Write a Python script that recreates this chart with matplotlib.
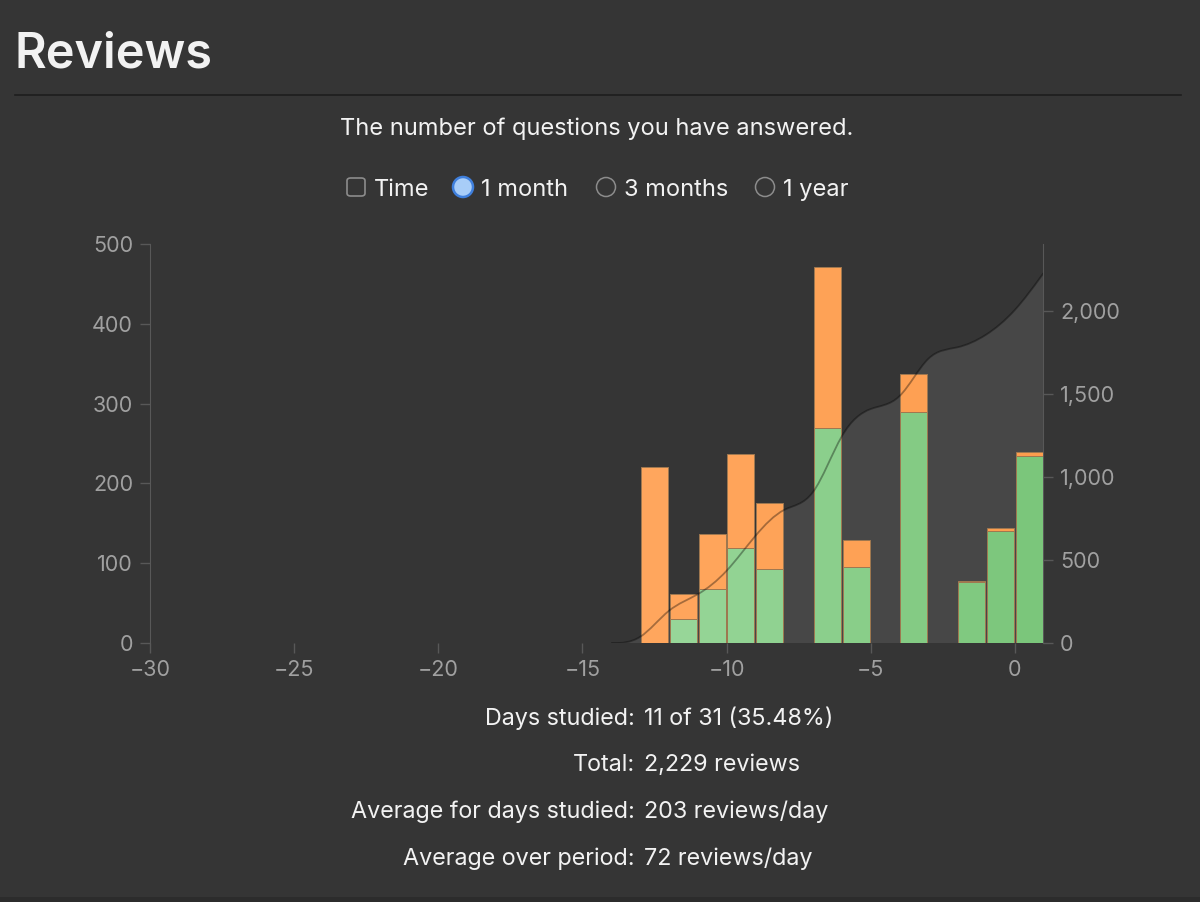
import matplotlib
matplotlib.use("Agg")
import matplotlib.pyplot as plt
from matplotlib.path import Path
from matplotlib.patches import PathPatch, FancyBboxPatch, Ellipse, Rectangle
from matplotlib.lines import Line2D
from matplotlib.colors import LinearSegmentedColormap
from matplotlib.ticker import FuncFormatter
import numpy as np

# reviews per day (days relative to today)
days = [-13, -12, -11, -10, -9, -7, -6, -4, -2, -1, 0]
learning = [220, 31, 69, 118, 83, 202, 34, 47, 2, 4, 5]
review = [0, 30, 68, 119, 93, 269, 95, 290, 76, 140, 234]

x_ticks = [-30, -25, -20, -15, -10, -5, 0]
left_ticks = [0, 100, 200, 300, 400, 500]
right_ticks = [0, 500, 1000, 1500, 2000]

title = "Reviews"
subtitle = "The number of questions you have answered."
options = ["Time", "1 month", "3 months", "1 year"]
stat_labels = ["Days studied:", "Total:", "Average for days studied:", "Average over period:"]
stat_values = ["11 of 31 (35.48%)", "2,229 reviews", "203 reviews/day", "72 reviews/day"]

BG = "#353535"
TXT = "#f2f2f2"
TICK = "#a0a0a0"
AXC = "#585858"
FONT = ["Inter", "DejaVu Sans"]
plt.rcParams["font.family"] = FONT

W, H = 1200, 902
fig = plt.figure(figsize=(W / 100, H / 100), dpi=100, facecolor=BG)


def fx(x):
    return x / W


def fy(y):
    return 1 - y / H


# header
fig.text(fx(15), fy(68), title, fontsize=35, weight="semibold", color=TXT, va="baseline")
fig.add_artist(Line2D([fx(15), fx(1181)], [fy(95), fy(95)], color="#1d1d1d", lw=1.2))
fig.text(fx(597), fy(129), subtitle, fontsize=17, color=TXT, ha="center", va="center")

# checkbox + radio buttons
fig.add_artist(FancyBboxPatch((fx(347), fy(196)), fx(18), 18 / H,
                              boxstyle="round,pad=0,rounding_size=0.003",
                              fc="none", ec="#8c8c8c", lw=1.2, transform=fig.transFigure))
radio_x = [463, 606, 765]
text_x = [374, 481, 624, 783]
for i, rx in enumerate(radio_x):
    if i == 0:
        fig.add_artist(Ellipse((fx(rx), fy(187)), 20 / W, 20 / H, fc="#a8cdf8", ec="#3f7fdc", lw=1.8,
                               transform=fig.transFigure))
    else:
        fig.add_artist(Ellipse((fx(rx), fy(187)), 19 / W, 19 / H, fc="none", ec="#8c8c8c", lw=1.1,
                               transform=fig.transFigure))
for tx, lab in zip(text_x, options):
    fig.text(fx(tx), fy(190), lab, fontsize=17, color=TXT, va="center")

# chart
ax = fig.add_axes([fx(150), 1 - 643 / H, (1043 - 150) / W, (643 - 244) / H])
ax2 = ax.twinx()
ax.set_zorder(2)
ax2.set_zorder(1)
ax.patch.set_visible(False)
ax2.patch.set_visible(False)

ax.set_xlim(-30, 0.98)
ax.set_ylim(0, 500)
ax2.set_ylim(0, 2404)

greens = LinearSegmentedColormap.from_list("g", ["#99d79a", "#7bc67b"])
oranges = LinearSegmentedColormap.from_list("o", ["#ffa65d", "#fd9d4e"])
for d, l, r in zip(days, learning, review):
    t = (d + 13) / 13
    if r:
        ax.bar(d + 0.03, r, width=0.94, align="edge", color=greens(t), edgecolor="#9f7850", lw=0.7, zorder=2)
    if l:
        ax.bar(d + 0.03, l, width=0.94, align="edge", bottom=r, color=oranges(t), edgecolor="#9f7850",
               lw=0.7, zorder=2)

# cumulative total, drawn as a d3-style basis curve
totals = np.array(learning) + np.array(review)
cx = [days[0] - 1, days[0]]
cy = [0, 0]
run = 0
for d in range(days[0], 1):
    if d in days:
        run += totals[days.index(d)]
    cx.append(d + 1)
    cy.append(run)

verts = [(cx[0], cy[0])]
codes = [Path.MOVETO]
verts.append(((5 * cx[0] + cx[1]) / 6, (5 * cy[0] + cy[1]) / 6))
codes.append(Path.LINETO)
pts = list(zip(cx, cy)) + [(cx[-1], cy[-1])]
for i in range(2, len(pts)):
    x0, y0 = pts[i - 2]
    x1, y1 = pts[i - 1]
    x, y = pts[i]
    verts += [((2 * x0 + x1) / 3, (2 * y0 + y1) / 3),
              ((x0 + 2 * x1) / 3, (y0 + 2 * y1) / 3),
              ((x0 + 4 * x1 + x) / 6, (y0 + 4 * y1 + y) / 6)]
    codes += [Path.CURVE4] * 3
verts.append((cx[-1], cy[-1]))
codes.append(Path.LINETO)

area = Path(verts + [(cx[-1], 0), (cx[0], 0), (cx[0], 0)],
            codes + [Path.LINETO, Path.LINETO, Path.CLOSEPOLY])
ax2.add_patch(PathPatch(area, fc="#474747", ec="none", zorder=1))
ax.add_patch(PathPatch(Path(verts, codes), fc="none", ec="black", alpha=0.35, lw=1.3,
                       transform=ax2.transData, zorder=5))

# axes styling
for s in ["top", "right", "bottom"]:
    ax.spines[s].set_visible(False)
for s in ["top", "left", "bottom"]:
    ax2.spines[s].set_visible(False)
ax.spines["left"].set_color(AXC)
ax2.spines["right"].set_color(AXC)

ax.set_xticks(x_ticks)
ax.set_yticks(left_ticks)
ax2.set_yticks(right_ticks)
ax2.yaxis.set_major_formatter(FuncFormatter(lambda v, p: f"{int(v):,}"))
ax.tick_params(axis="both", length=7.2, width=1, color=AXC, labelcolor=TICK, labelsize=15.5, pad=5)
ax2.tick_params(axis="y", length=7.2, width=1, color=AXC, labelcolor=TICK, labelsize=15.5, pad=5)

# stats table
row_y = [719, 765, 812, 859]
for yy, lab, val in zip(row_y, stat_labels, stat_values):
    fig.text(fx(635), fy(yy), lab, fontsize=16.8, color=TXT, ha="right", va="center")
    fig.text(fx(644), fy(yy), val, fontsize=16.8, color=TXT, ha="left", va="center")

fig.add_artist(Rectangle((0, 0), 1, 5 / H, fc="#2c2c2c", ec="none", transform=fig.transFigure))

fig.savefig("out.png", dpi=100, facecolor=BG)
